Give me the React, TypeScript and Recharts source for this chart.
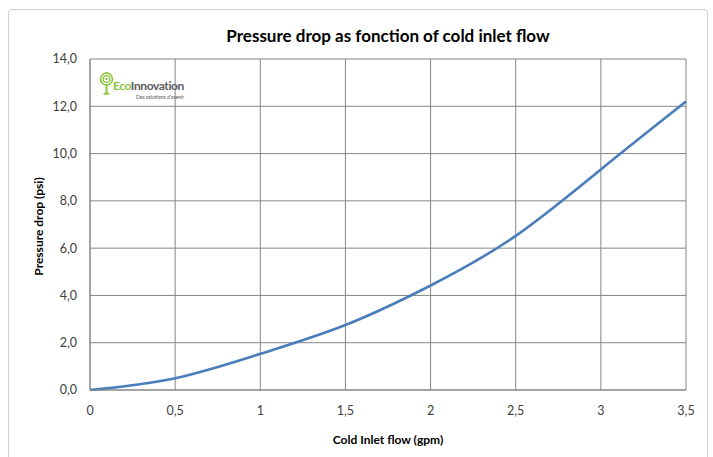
import React from 'react';
import { LineChart, Line, XAxis, YAxis, CartesianGrid, Label } from 'recharts';

// Cold inlet flow (gpm) vs pressure drop (psi)
const flowGpm = [0, 0.5, 1, 1.5, 2, 2.5, 3, 3.5];
const pressurePsi = [0, 0.5, 1.53, 2.75, 4.42, 6.52, 9.33, 12.2];
const xTicks = [0, 0.5, 1, 1.5, 2, 2.5, 3, 3.5];
const yTicks = [0, 2, 4, 6, 8, 10, 12, 14];

const data = flowGpm.map((flow, i) => ({ flow, pressure: pressurePsi[i] }));

const FONT = 'Lato, "Open Sans", sans-serif';
const GRID = '#868686';

const fmtY = (v: number) => v.toFixed(1).replace('.', ',');
const fmtX = (v: number) => String(v).replace('.', ',');

const YTitle = ({ viewBox }: any) => {
  if (!viewBox) return null;
  const cx = 38;
  const cy = viewBox.y + viewBox.height / 2 + 2;
  return (
    <text
      x={cx}
      y={cy}
      transform={`rotate(-90 ${cx} ${cy})`}
      textAnchor="middle"
      dominantBaseline="central"
      fontFamily={FONT}
      fontWeight={700}
      fontSize={12}
      fill="#000"
    >
      Pressure drop (psi)
    </text>
  );
};

const Logo = () => (
  <div style={{ position: 'absolute', left: 99, top: 71, width: 100, height: 30, fontFamily: FONT }}>
    <svg width={16} height={25} style={{ position: 'absolute', left: 0, top: 0 }}>
      <circle cx={7.5} cy={8} r={6} fill="none" stroke="#8cc63e" strokeWidth={1.6} />
      <circle cx={7.5} cy={8} r={3.4} fill="none" stroke="#8cc63e" strokeWidth={1.4} />
      <circle cx={7.5} cy={8} r={1.2} fill="#8cc63e" />
      <path d="M7.5 1 L10 3 L5 3 Z" fill="#8cc63e" />
      <rect x={6.5} y={13} width={2} height={10} fill="#8cc63e" />
      <rect x={4.5} y={22} width={6} height={1.6} fill="#8cc63e" />
    </svg>
    <div
      style={{
        position: 'absolute',
        left: 14,
        top: 8,
        fontSize: 12,
        fontWeight: 700,
        letterSpacing: -0.4,
        whiteSpace: 'nowrap',
        lineHeight: '14px',
      }}
    >
      <span style={{ color: '#8cc63e' }}>Eco</span>
      <span style={{ color: '#5b5b5b' }}>Innovation</span>
    </div>
    <div
      style={{
        position: 'absolute',
        left: 37,
        top: 23,
        fontSize: 5,
        color: '#555',
        whiteSpace: 'nowrap',
        lineHeight: '6px',
      }}
    >
      Des solutions d'avenir
    </div>
  </div>
);

const App = () => {
  return (
    <div style={{ position: 'fixed', left: 0, top: 0, width: 713, height: 457, background: '#fff', overflow: 'hidden' }}>
      <div
        style={{
          position: 'absolute',
          left: 8,
          top: 9,
          width: 700,
          height: 470,
          border: '1px solid #cfcfcf',
          borderRadius: 4,
          boxSizing: 'border-box',
        }}
      />
      <div
        style={{
          position: 'absolute',
          left: 90,
          width: 596,
          top: 25,
          textAlign: 'center',
          fontFamily: FONT,
          fontWeight: 700,
          fontSize: 17,
          color: '#000',
        }}
      >
        Pressure drop as fonction of cold inlet flow
      </div>
      <div style={{ position: 'absolute', left: 0, top: 0 }}>
        <LineChart width={713} height={457} data={data} margin={{ top: 59, right: 27, bottom: 37, left: 0 }}>
          <CartesianGrid stroke={GRID} strokeWidth={1} />
          <XAxis
            dataKey="flow"
            type="number"
            domain={[0, 3.5]}
            ticks={xTicks}
            tickFormatter={fmtX}
            height={30}
            tickSize={0}
            tickMargin={16}
            axisLine={{ stroke: GRID }}
            tick={{ fontFamily: FONT, fontSize: 12.5, fill: '#404040' }}
          >
            <Label
              value="Cold Inlet flow (gpm)"
              position="bottom"
              offset={15}
              style={{ fontFamily: FONT, fontWeight: 700, fontSize: 12, fill: '#000' }}
            />
          </XAxis>
          <YAxis
            type="number"
            domain={[0, 14]}
            ticks={yTicks}
            tickFormatter={fmtY}
            width={90}
            tickSize={0}
            tickMargin={13}
            axisLine={{ stroke: GRID }}
            tick={{ fontFamily: FONT, fontSize: 12.5, fill: '#404040' }}
            label={<YTitle />}
          />
          <Line
            type="natural"
            dataKey="pressure"
            stroke="#4a7ebb"
            strokeWidth={2.6}
            dot={false}
            isAnimationActive={false}
          />
        </LineChart>
      </div>
      <Logo />
    </div>
  );
};

export default App;
